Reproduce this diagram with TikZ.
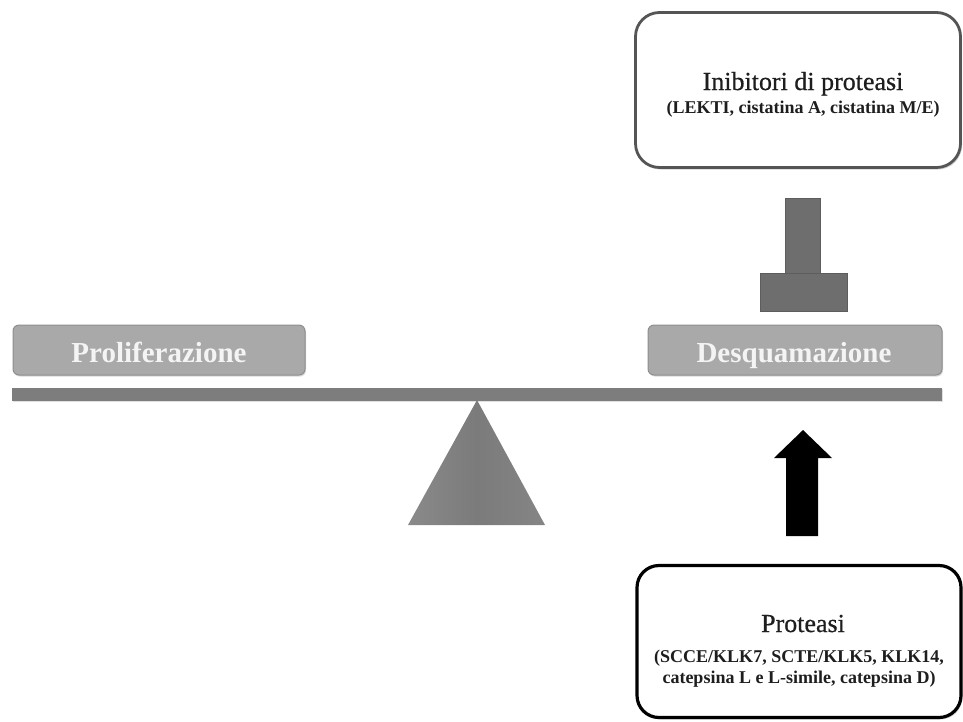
\documentclass[tikz,border=0pt]{standalone}
\usepackage{fontspec}
\setmainfont{Liberation Serif}
\newfontfamily\ttlfont[FakeBold=0.6]{Liberation Serif}
\usetikzlibrary{shadows}
\definecolor{boxgray}{HTML}{A9A9A9}
\definecolor{boxedge}{HTML}{8E8E8E}
\definecolor{beamgray}{HTML}{7D7D7D}
\definecolor{tgray}{HTML}{6E6E6E}
\definecolor{framegray}{HTML}{555555}
\definecolor{txtgray}{HTML}{1E1E1E}
\definecolor{whitetxt}{HTML}{F4F4F4}
\definecolor{triL}{HTML}{8A8A8A}
\definecolor{triM}{HTML}{7B7B7B}
\definecolor{triR}{HTML}{858585}
\tikzset{
  x=1pt, y=-1pt,
  infobox/.style={draw=framegray, line width=2.8pt, rounded corners=24pt, fill=white,
    drop shadow={opacity=0.35, shadow xshift=1.5pt, shadow yshift=-2pt}},
  protbox/.style={draw=black, line width=3.2pt, rounded corners=22pt, fill=white,
    drop shadow={opacity=0.3, shadow xshift=1.5pt, shadow yshift=-2pt}},
  labbox/.style={draw=boxedge, line width=1pt, fill=boxgray, rounded corners=6pt,
    drop shadow={opacity=0.3, shadow xshift=1pt, shadow yshift=-1.5pt}},
  labtxt/.style={anchor=base, text=whitetxt, font=\fontsize{29}{32}\selectfont\bfseries},
  ttl/.style={anchor=base, text=txtgray, font=\fontsize{26}{30}\selectfont\ttlfont},
  sub/.style={anchor=base, text=txtgray, font=\fontsize{18}{21}\selectfont\bfseries},
  solidgray/.style={fill=tgray, draw=tgray!85!black, line width=0.6pt},
}
\begin{document}
\begin{tikzpicture}
\useasboundingbox (0,0) rectangle (963,721);
% top box: inhibitors
\node[infobox, minimum width=325pt, minimum height=155pt, inner sep=0pt] (inib) at (798,90) {};
\node[ttl] (inibt) at (803,90) {Inibitori di proteasi};
\node[sub] (inibs) at (803,113) {(LEKTI, cistatina A, cistatina M/E)};
% inhibition T-shape
\fill[solidgray] (785,198) rectangle (820,274);
\fill[solidgray] (760,273) rectangle (847,311);
% label boxes
\node[labbox, minimum width=292pt, minimum height=50pt, inner sep=0pt] (prol) at (159,350) {};
\node[labtxt] (prolt) at (159,362) {Proliferazione};
\node[labbox, minimum width=294pt, minimum height=50pt, inner sep=0pt] (desq) at (795,350) {};
\node[labtxt] (desqt) at (794,362) {Desquamazione};
% beam
\fill[beamgray, drop shadow={opacity=0.25, shadow xshift=0.5pt, shadow yshift=-1pt}] (12,388) rectangle (942,401);
% fulcrum
\shade[left color=triL, right color=triR, middle color=triM]
  (477,400) -- (408,525) -- (545,525) -- cycle;
% black arrow
\fill[black] (786,536) -- (786,458) -- (774,458) -- (803,430) -- (832,458) -- (818,458) -- (818,536) -- cycle;
% bottom box: proteases
\node[protbox, minimum width=324pt, minimum height=152pt, inner sep=0pt] (prot) at (799,641.5) {};
\node[ttl] (prott) at (803,632) {Proteasi};
\node[sub] (prots1) at (799,662) {(SCCE/KLK7, SCTE/KLK5, KLK14,};
\node[sub] (prots2) at (799,683) {catepsina L e L-simile, catepsina D)};
\end{tikzpicture}
\end{document}
